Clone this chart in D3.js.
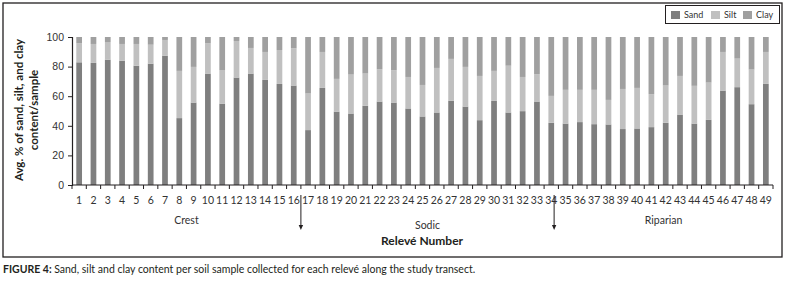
<!DOCTYPE html>
<html>
<head>
<meta charset="utf-8">
<script src="https://cdn.jsdelivr.net/npm/d3@7"></script>
<style>
  body { margin: 0; background: #fff; }
  svg { display: block; font-family: Lato, "Open Sans", sans-serif; }
</style>
</head>
<body>
<div id="chart"></div>
<script>
// relevé numbers 1..49
const releves = d3.range(1, 50).map(String)

// avg % per sample
const sand = [82.9, 82.5, 84.7, 84.0, 80.6, 82.0, 87.4, 45.2, 55.7, 75.3,
  55.0, 72.6, 75.3, 71.0, 68.3, 67.2, 37.1, 65.6, 49.6, 48.3,
  53.5, 56.4, 55.7, 51.7, 46.3, 49.0, 57.0, 53.0, 43.8, 56.8,
  49.0, 49.9, 56.4, 42.0, 41.5, 42.5, 41.1, 40.9, 37.8, 38.2,
  39.1, 42.0, 47.6, 41.5, 44.0, 63.8, 66.1, 54.6, 68.3]
const silt = [12.8, 12.8, 11.9, 11.3, 14.7, 12.8, 10.6, 31.9, 24.1, 20.4,
  22.7, 24.7, 17.3, 18.9, 22.9, 25.2, 24.7, 24.3, 22.1, 26.3,
  21.8, 21.8, 21.8, 21.3, 21.3, 30.1, 28.2, 26.8, 29.9, 20.3,
  31.6, 23.1, 18.5, 18.2, 22.8, 21.8, 23.2, 16.6, 27.1, 27.4,
  22.3, 25.2, 26.1, 25.5, 25.2, 26.1, 19.3, 23.4, 21.6]
const clay = [4.3, 4.7, 3.4, 4.7, 4.7, 5.2, 2.0, 22.9, 20.2, 4.3,
  22.3, 2.7, 7.4, 10.1, 8.8, 7.6, 38.2, 10.1, 28.3, 25.4,
  24.7, 21.8, 22.5, 27.0, 32.4, 20.9, 14.8, 20.2, 26.3, 22.9,
  19.4, 27.0, 25.1, 39.8, 35.7, 35.7, 35.7, 42.5, 35.1, 34.4,
  38.6, 32.8, 26.3, 33.0, 30.8, 10.1, 14.6, 22.0, 10.1]

const seriesNames = ["Sand", "Silt", "Clay"]
const yTicks = [0, 20, 40, 60, 80, 100]

// transect zones (in relevé units) and the arrows between them
const zones = [
  {name: "Crest", from: 0.5, to: 16.5},
  {name: "Sodic", from: 16.5, to: 34.2},
  {name: "Riparian", from: 34.2, to: 49.5}
]
const arrowsAt = [16.5, 34.2]

const colors = {Sand: "#7f7f7f", Silt: "#c0c0c0", Clay: "#a0a0a0"}
const ink = "#231f20"

const width = 788, height = 281
const plotLeft = 72, plotRight = 773, plotTop = 37, plotBottom = 185

let svg = d3.select("#chart").append("svg")
  .attr("width", width)
  .attr("height", height)

// frame
svg.append("rect")
  .attr("x", 3).attr("y", 3)
  .attr("width", 779).attr("height", 254)
  .attr("fill", "none")
  .attr("stroke", ink)
  .attr("stroke-width", 1.3)

let rows = releves.map((r, i) => ({releve: r, Sand: sand[i], Silt: silt[i], Clay: clay[i]}))
let stack = d3.stack().keys(seriesNames)(rows)

let x = d3.scaleBand()
  .domain(releves)
  .range([plotLeft, plotRight])
  .paddingInner(0.6)
  .paddingOuter(0.3)

// continuous position in relevé units, for annotations
let xr = d3.scaleLinear()
  .domain([0.5, 49.5])
  .range([plotLeft, plotRight])

let y = d3.scaleLinear()
  .domain([0, 100])
  .range([plotBottom, plotTop])

// bars
svg.append("g")
  .selectAll("g")
  .data(stack)
  .enter().append("g")
  .attr("fill", d => colors[d.key])
  .selectAll("rect")
  .data(d => d)
  .enter().append("rect")
  .attr("x", d => x(d.data.releve))
  .attr("width", x.bandwidth())
  .attr("y", d => y(d[1]))
  .attr("height", d => y(d[0]) - y(d[1]))

// y axis
let yAxis = svg.append("g")
  .attr("transform", "translate(" + plotLeft + ",0)")
  .call(d3.axisLeft(y).tickValues(yTicks).tickSize(4).tickPadding(4))
yAxis.select(".domain").attr("stroke", ink).attr("stroke-width", 1.2)
yAxis.selectAll(".tick line").attr("stroke", ink)
yAxis.selectAll("text").attr("fill", "#333").style("font-size", "10.5px")

// x axis: ticks sit on band edges, labels in band centres
let xAxis = svg.append("g")
  .attr("transform", "translate(0," + plotBottom + ")")
xAxis.append("line")
  .attr("x1", plotLeft).attr("x2", plotRight)
  .attr("stroke", ink).attr("stroke-width", 1.2)
xAxis.selectAll("line.tick")
  .data(d3.range(0, releves.length + 1))
  .enter().append("line")
  .attr("class", "tick")
  .attr("x1", i => plotLeft + i * x.step())
  .attr("x2", i => plotLeft + i * x.step())
  .attr("y1", 0).attr("y2", 4)
  .attr("stroke", ink)
xAxis.selectAll("text")
  .data(releves)
  .enter().append("text")
  .text(d => d)
  .attr("x", d => x(d) + x.bandwidth() / 2)
  .attr("y", 18.5)
  .attr("text-anchor", "middle")
  .attr("fill", "#333")
  .style("font-size", "10.5px")

// y axis title
let yTitle = svg.append("text")
  .attr("transform", "translate(23,110) rotate(-90)")
  .attr("text-anchor", "middle")
  .attr("fill", ink)
  .style("font-size", "11.5px")
  .style("font-weight", "bold")
yTitle.append("tspan").attr("x", 0).attr("dy", 0).text("Avg. % of sand, silt, and clay")
yTitle.append("tspan").attr("x", 0).attr("dy", 15).text("content/sample")

// zone labels
svg.selectAll("text.zone")
  .data(zones)
  .enter().append("text")
  .attr("class", "zone")
  .text(d => d.name)
  .attr("x", d => xr((d.from + d.to) / 2))
  .attr("y", (d, i) => i == 1 ? 229 : 224)
  .attr("text-anchor", "middle")
  .attr("fill", "#333")
  .style("font-size", "10.5px")

// arrows
arrowsAt.forEach(a => {
  let ax = xr(a)
  svg.append("line")
    .attr("x1", ax).attr("x2", ax)
    .attr("y1", 195).attr("y2", 226)
    .attr("stroke", ink).attr("stroke-width", 1)
  svg.append("path")
    .attr("d", "M" + (ax - 2.2) + ",225 L" + (ax + 2.2) + ",225 L" + ax + ",230 Z")
    .attr("fill", ink)
})

// x axis title
svg.append("text")
  .text("Relevé Number")
  .attr("x", 422)
  .attr("y", 245)
  .attr("text-anchor", "middle")
  .attr("fill", ink)
  .style("font-size", "12px")
  .style("font-weight", "bold")

// legend
let legend = svg.append("g")
legend.append("rect")
  .attr("x", 665.5).attr("y", 5.5)
  .attr("width", 114).attr("height", 18)
  .attr("fill", "#fff")
  .attr("stroke", ink)
  .attr("stroke-width", 1)
let legendX = [671, 711, 743]
seriesNames.forEach((s, i) => {
  legend.append("rect")
    .attr("x", legendX[i]).attr("y", 11)
    .attr("width", 9).attr("height", 8)
    .attr("fill", colors[s])
  legend.append("text")
    .text(s)
    .attr("x", legendX[i] + 13)
    .attr("y", 18)
    .attr("fill", "#333")
    .style("font-size", "9px")
})

// caption
let caption = svg.append("text")
  .attr("x", 3)
  .attr("y", 273)
  .attr("fill", ink)
  .style("font-size", "10.5px")
caption.append("tspan").style("font-weight", "bold").text("FIGURE 4: ")
caption.append("tspan").text("Sand, silt and clay content per soil sample collected for each relevé along the study transect.")
</script>
</body>
</html>
